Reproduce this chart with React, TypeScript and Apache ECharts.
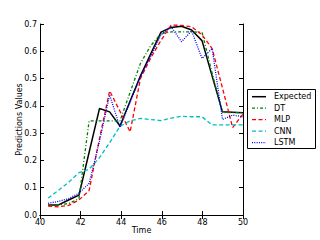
import React, { useEffect, useRef } from "react";
import * as echarts from "echarts";

const time = [40.40, 40.91, 41.41, 41.92, 42.42, 42.93, 43.43, 43.94, 44.44, 44.95, 45.45, 45.96, 46.46, 46.97, 47.47, 47.98, 48.48, 48.99, 49.49, 50.00];
const expected = [0.037, 0.037, 0.055, 0.073, 0.23, 0.39, 0.378, 0.326, 0.418, 0.51, 0.59, 0.67, 0.687, 0.692, 0.678, 0.639, 0.509, 0.378, 0.377, 0.375];
const dt = [0.037, 0.037, 0.042, 0.06, 0.345, 0.345, 0.345, 0.345, 0.45, 0.556, 0.62, 0.665, 0.671, 0.671, 0.671, 0.67, 0.52, 0.375, 0.375, 0.375];
const mlp = [0.033, 0.03, 0.035, 0.055, 0.09, 0.28, 0.455, 0.38, 0.305, 0.5, 0.575, 0.64, 0.696, 0.695, 0.69, 0.66, 0.61, 0.465, 0.32, 0.37];
const cnn = [0.062, 0.09, 0.12, 0.155, 0.168, 0.21, 0.265, 0.325, 0.345, 0.354, 0.35, 0.346, 0.355, 0.362, 0.36, 0.36, 0.33, 0.33, 0.33, 0.33];
const lstm = [0.043, 0.05, 0.06, 0.08, 0.116, 0.27, 0.44, 0.321, 0.414, 0.507, 0.58, 0.66, 0.69, 0.635, 0.675, 0.574, 0.61, 0.35, 0.366, 0.36];

const seriesNames = ["Expected", "DT", "MLP", "CNN", "LSTM"];

const FONT = "DejaVu Sans";

const STYLES: { color: string; dash: any; width: number }[] = [
  { color: "#000000", dash: "solid", width: 1.5 },
  { color: "#008000", dash: [3, 2, 1, 2], width: 1.3 },
  { color: "#ff0000", dash: [4, 2.5], width: 1.3 },
  { color: "#00bfbf", dash: [4, 2.5], width: 1.3 },
  { color: "#0000ff", dash: [1, 1.3], width: 1.3 },
];

export default function App() {
  const ref = useRef<HTMLDivElement>(null);
  useEffect(() => {
    if (!ref.current) return;
    const chart = echarts.init(ref.current, undefined, { renderer: "svg" });
    const allVals = [expected, dt, mlp, cnn, lstm];
    const axisLine = { show: true, lineStyle: { color: "#000", width: 1 } };
    const tick = { show: true, inside: true, length: 4, lineStyle: { color: "#000", width: 1 } };
    const label = { color: "#000", fontSize: 8, fontFamily: FONT };

    const series = seriesNames.map((name, i) => ({
      name,
      type: "line",
      data: time.map((t, j) => [t, allVals[i][j]]),
      symbol: "none",
      showSymbol: false,
      xAxisIndex: 0,
      yAxisIndex: 0,
      lineStyle: { color: STYLES[i].color, type: STYLES[i].dash, width: STYLES[i].width },
      itemStyle: { color: STYLES[i].color },
    }));

    const legendX = 247;
    const legendY = 89;
    const rowY0 = 96.7;
    const rowGap = 11.5;
    const legendGraphics: any[] = [
      {
        type: "rect",
        shape: { x: legendX + 0.5, y: legendY + 0.5, width: 68, height: 59 },
        style: { fill: "#fff", stroke: "#000", lineWidth: 1 },
        z: 100,
      },
    ];
    seriesNames.forEach((name, i) => {
      const y = rowY0 + i * rowGap;
      legendGraphics.push({
        type: "line",
        shape: { x1: 252, y1: y, x2: 266, y2: y },
        style: {
          stroke: STYLES[i].color,
          lineWidth: STYLES[i].width,
          lineDash: STYLES[i].dash === "solid" ? null : STYLES[i].dash,
        },
        z: 101,
      });
      legendGraphics.push({
        type: "text",
        x: 274,
        y,
        style: {
          text: name,
          fill: "#000",
          font: `8px "${FONT}"`,
          textVerticalAlign: "middle",
          verticalAlign: "middle",
          textAlign: "left",
        },
        z: 101,
      });
    });

    chart.setOption({
      animation: false,
      grid: { left: 40, top: 24, right: 77, bottom: 25, containLabel: false },
      xAxis: [
        {
          type: "value", min: 40, max: 50, interval: 2, position: "bottom",
          axisLine, axisTick: tick, splitLine: { show: false },
          axisLabel: { ...label, margin: 3 },
          name: "Time", nameLocation: "middle", nameGap: 11, nameMoveOverlap: false,
          nameTextStyle: { ...label },
        },
        {
          type: "value", min: 40, max: 50, interval: 2, position: "top",
          axisLine, axisTick: tick, splitLine: { show: false }, axisLabel: { show: false },
        },
      ],
      yAxis: [
        {
          type: "value", min: 0, max: 0.7, interval: 0.1, position: "left",
          axisLine, axisTick: tick, splitLine: { show: false },
          axisLabel: { ...label, margin: 3, formatter: (v: number) => v.toFixed(1) },
          name: "Predictions Values", nameLocation: "middle", nameGap: 17, nameMoveOverlap: false,
          nameTextStyle: { ...label },
        },
        {
          type: "value", min: 0, max: 0.7, interval: 0.1, position: "right",
          axisLine, axisTick: tick, splitLine: { show: false }, axisLabel: { show: false },
        },
      ],
      graphic: legendGraphics,
      series,
    });
    return () => chart.dispose();
  }, []);
  return (
    <div
      ref={ref}
      style={{ position: "fixed", left: 0, top: 0, width: 320, height: 240, background: "#fff" }}
    />
  );
}
